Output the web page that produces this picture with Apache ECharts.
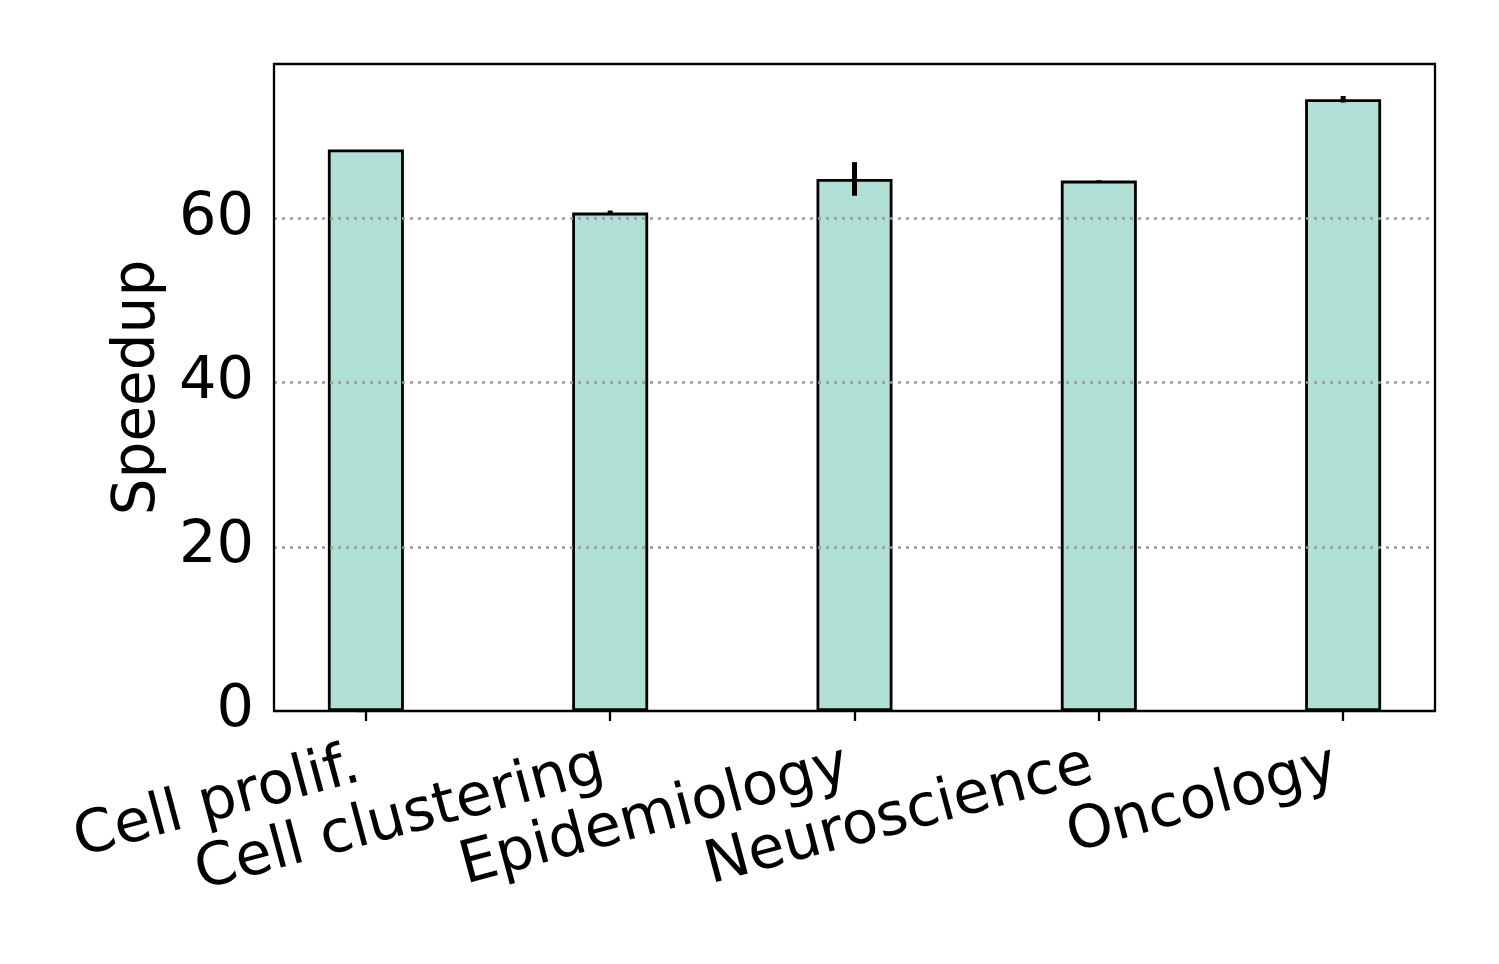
<!DOCTYPE html>
<html><head><meta charset="utf-8">
<script src="https://cdn.jsdelivr.net/npm/echarts@6/dist/echarts.min.js"></script>
<style>html,body{margin:0;padding:0;background:#fff}#c{width:1499px;height:964px}</style>
</head><body><div id="c"></div>
<script>
const categories = ['Cell prolif.', 'Cell clustering', 'Epidemiology', 'Neuroscience', 'Oncology'];
const speedup = [68.4, 60.7, 64.8, 64.6, 74.5];
const errors = [0.0, 0.25, 2.05, 0.05, 0.4];
const yTicks = [0, 20, 40, 60];
const catIdx = categories.map((c, i) => i);

const chart = echarts.init(document.getElementById('c'), null, {renderer: 'canvas'});
const font = 'DejaVu Sans';
chart.setOption({
  animation: false,
  grid: {left: 274, right: 64, top: 64, bottom: 253, show: true, borderColor: '#000', borderWidth: 2.3, z: 10},
  xAxis: {
    type: 'value', min: -0.376, max: 4.376,
    axisLine: {show: false},
    splitLine: {show: false},
    axisTick: {show: true, customValues: catIdx, length: 10, lineStyle: {color: '#000', width: 2.3}},
    axisLabel: {show: true, customValues: catIdx, rotate: 15, margin: 22, fontSize: 59, color: '#000', fontFamily: font,
      align: 'right', verticalAlign: 'top', padding: [0, 15, 0, 0],
      formatter: v => categories[Math.round(v)] || ''}
  },
  yAxis: {
    type: 'value', min: 0, max: 78.8,
    name: 'Speedup', nameLocation: 'middle', nameGap: 106, nameRotate: 90,
    nameTextStyle: {fontSize: 58, color: '#000', fontFamily: font},
    axisLine: {show: false},
    axisTick: {show: true, customValues: yTicks, length: 10, lineStyle: {color: '#000', width: 2.3}},
    axisLabel: {show: true, customValues: yTicks, margin: 20, fontSize: 59, color: '#000', fontFamily: font},
    splitLine: {show: false}
  },
  series: [
    {
      type: 'line', data: [], silent: true,
      markLine: {silent: true, symbol: 'none', label: {show: false},
        lineStyle: {color: '#999999', width: 2.5, type: [3, 5]},
        data: yTicks.filter(v => v > 0).map(v => ({yAxis: v}))}
    },
    {
      type: 'bar', barWidth: 76, z: 3,
      data: speedup.map((v, i) => [i, v]),
      itemStyle: {color: '#b0e0d5', borderColor: '#000', borderWidth: 2.8}
    },
    {
      type: 'custom', z: 5,
      data: speedup.map((v, i) => [i, v - errors[i], v + errors[i]]),
      renderItem: (params, api) => {
        const lo = api.coord([api.value(0), api.value(1)]);
        const hi = api.coord([api.value(0), api.value(2)]);
        return {type: 'line', shape: {x1: lo[0], y1: lo[1], x2: hi[0], y2: hi[1]},
          style: {stroke: '#000', lineWidth: 5}};
      }
    }
  ]
});
</script></body></html>
